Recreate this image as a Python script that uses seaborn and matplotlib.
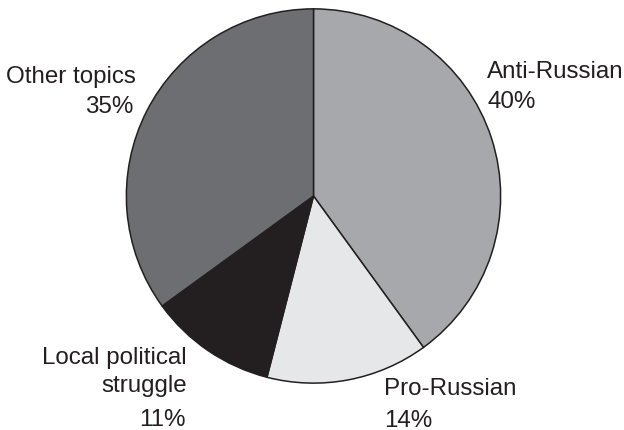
import matplotlib
matplotlib.use("Agg")
import matplotlib.pyplot as plt
import seaborn as sns

labels = ["Anti-Russian", "Pro-Russian", "Local political\nstruggle", "Other topics"]
pcts = [40, 14, 11, 35]
pct_labels = ["40%", "14%", "11%", "35%"]
colors = ["#a7a8ab", "#e6e7e8", "#231f20", "#6d6e71"]

sns.set_theme(style="white")
plt.rcParams['font.family'] = ['Liberation Sans', 'DejaVu Sans']

W, H = 624, 431
fig = plt.figure(figsize=(W / 100, H / 100), dpi=100)
cx, cy, r = 313.5, 197, 189
ax = fig.add_axes([(cx - r) / W, (H - cy - r) / H, 2 * r / W, 2 * r / H])
ax.pie(pcts, colors=colors, startangle=90, counterclock=False, radius=1,
       wedgeprops=dict(edgecolor="#231f20", linewidth=1.1))
ax.set_xlim(-1.01, 1.01)
ax.set_ylim(-1.01, 1.01)
ax.set_aspect("equal")
ax.axis("off")

tc = "#231f20"
fs = 17.4

def t(x, y, s, ha):
    fig.text(x / W, 1 - y / H, s, ha=ha, va="baseline", fontsize=fs, color=tc)

t(487, 78, labels[0], "left")
t(487, 108, pct_labels[0], "left")
t(384, 395, labels[1], "left")
t(384, 427, pct_labels[1], "left")
t(187, 364, "Local political", "right")
t(187, 392, "struggle", "right")
t(186, 426, pct_labels[2], "right")
t(136, 83, labels[3], "right")
t(133, 113, pct_labels[3], "right")

fig.savefig("out.png", dpi=100)
